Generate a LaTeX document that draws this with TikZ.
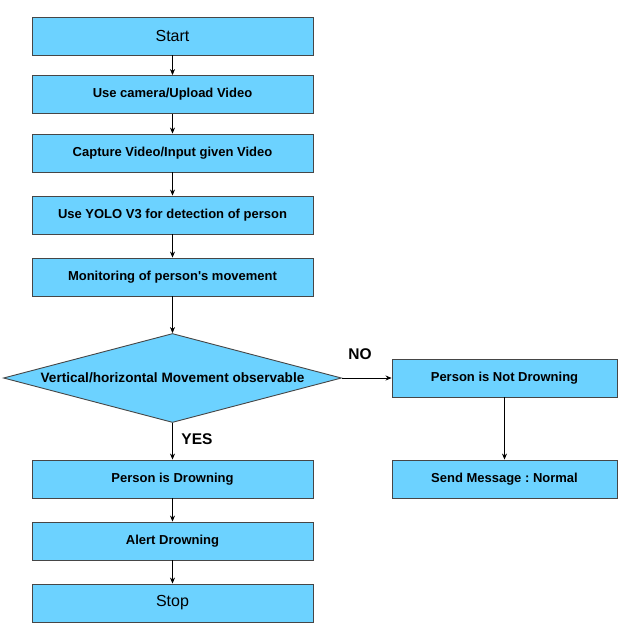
\documentclass[tikz,border=0pt]{standalone}
\usepackage{fontspec}
\setmainfont{Liberation Sans}
\usetikzlibrary{shapes.geometric, arrows.meta}
\frenchspacing

\definecolor{boxblue}{RGB}{108,210,255}
\definecolor{boxline}{RGB}{70,70,70}

\begin{document}
\begin{tikzpicture}[x = 1pt, y = -1pt,
    step box/.style = {draw = boxline, fill = boxblue, line width = 0.9pt,
      minimum width = 281pt, minimum height = 38pt, inner sep = 0pt,
      font = \fontsize{13}{15}\selectfont\bfseries},
    side box/.style = {step box, minimum width = 225pt},
    end box/.style = {step box, font = \fontsize{16}{18}\selectfont},
    check/.style = {diamond, draw = boxline, fill = boxblue, line width = 0.9pt,
      aspect = 3.8, minimum width = 338pt, minimum height = 89pt, inner sep = 0pt,
      font = \fontsize{13.6}{15}\selectfont\bfseries},
    answer/.style = {font = \fontsize{15.5}{17}\selectfont\bfseries},
    flow/.style = {draw, line width = 0.7pt, -{Stealth[length = 6pt, width = 5pt]}}]

      \useasboundingbox (0, 0) rectangle (637, 638);

      % main column
      \node[end box] (start) at (172.5, 36) {Start};
      \node[step box] (camera) at (172.5, 94.5) {Use camera/Upload Video};
      \node[step box] (capture) at (172.5, 153) {Capture Video/Input given Video};
      \node[step box] (yolo) at (172.5, 215) {Use YOLO V3 for detection of person};
      \node[step box] (monitor) at (172.5, 277) {Monitoring of person\textquotesingle s movement};
      \node[check] (move) at (172.5, 378) {Vertical/horizontal Movement observable};
      \node[step box] (drown) at (172.5, 479) {Person is Drowning};
      \node[step box] (alert) at (172.5, 541) {Alert Drowning};
      \node[end box] (stop) at (172.5, 603) {Stop};

      % right column
      \node[side box] (safe) at (504.5, 378) {Person is Not Drowning};
      \node[side box] (normal) at (504.5, 479) {Send Message : Normal};

      \node[answer] (no) at (360, 354) {NO};
      \node[answer] (yes) at (197, 439) {YES};

      \draw[flow] (start) -- (camera);
      \draw[flow] (camera) -- (capture);
      \draw[flow] (capture) -- (yolo);
      \draw[flow] (yolo) -- (monitor);
      \draw[flow] (monitor) -- (move);
      \draw[flow] (move) -- (drown);
      \draw[flow] (drown) -- (alert);
      \draw[flow] (alert) -- (stop);
      \draw[flow] (move) -- (safe);
      \draw[flow] (safe) -- (normal);

    \end{tikzpicture}
\end{document}
